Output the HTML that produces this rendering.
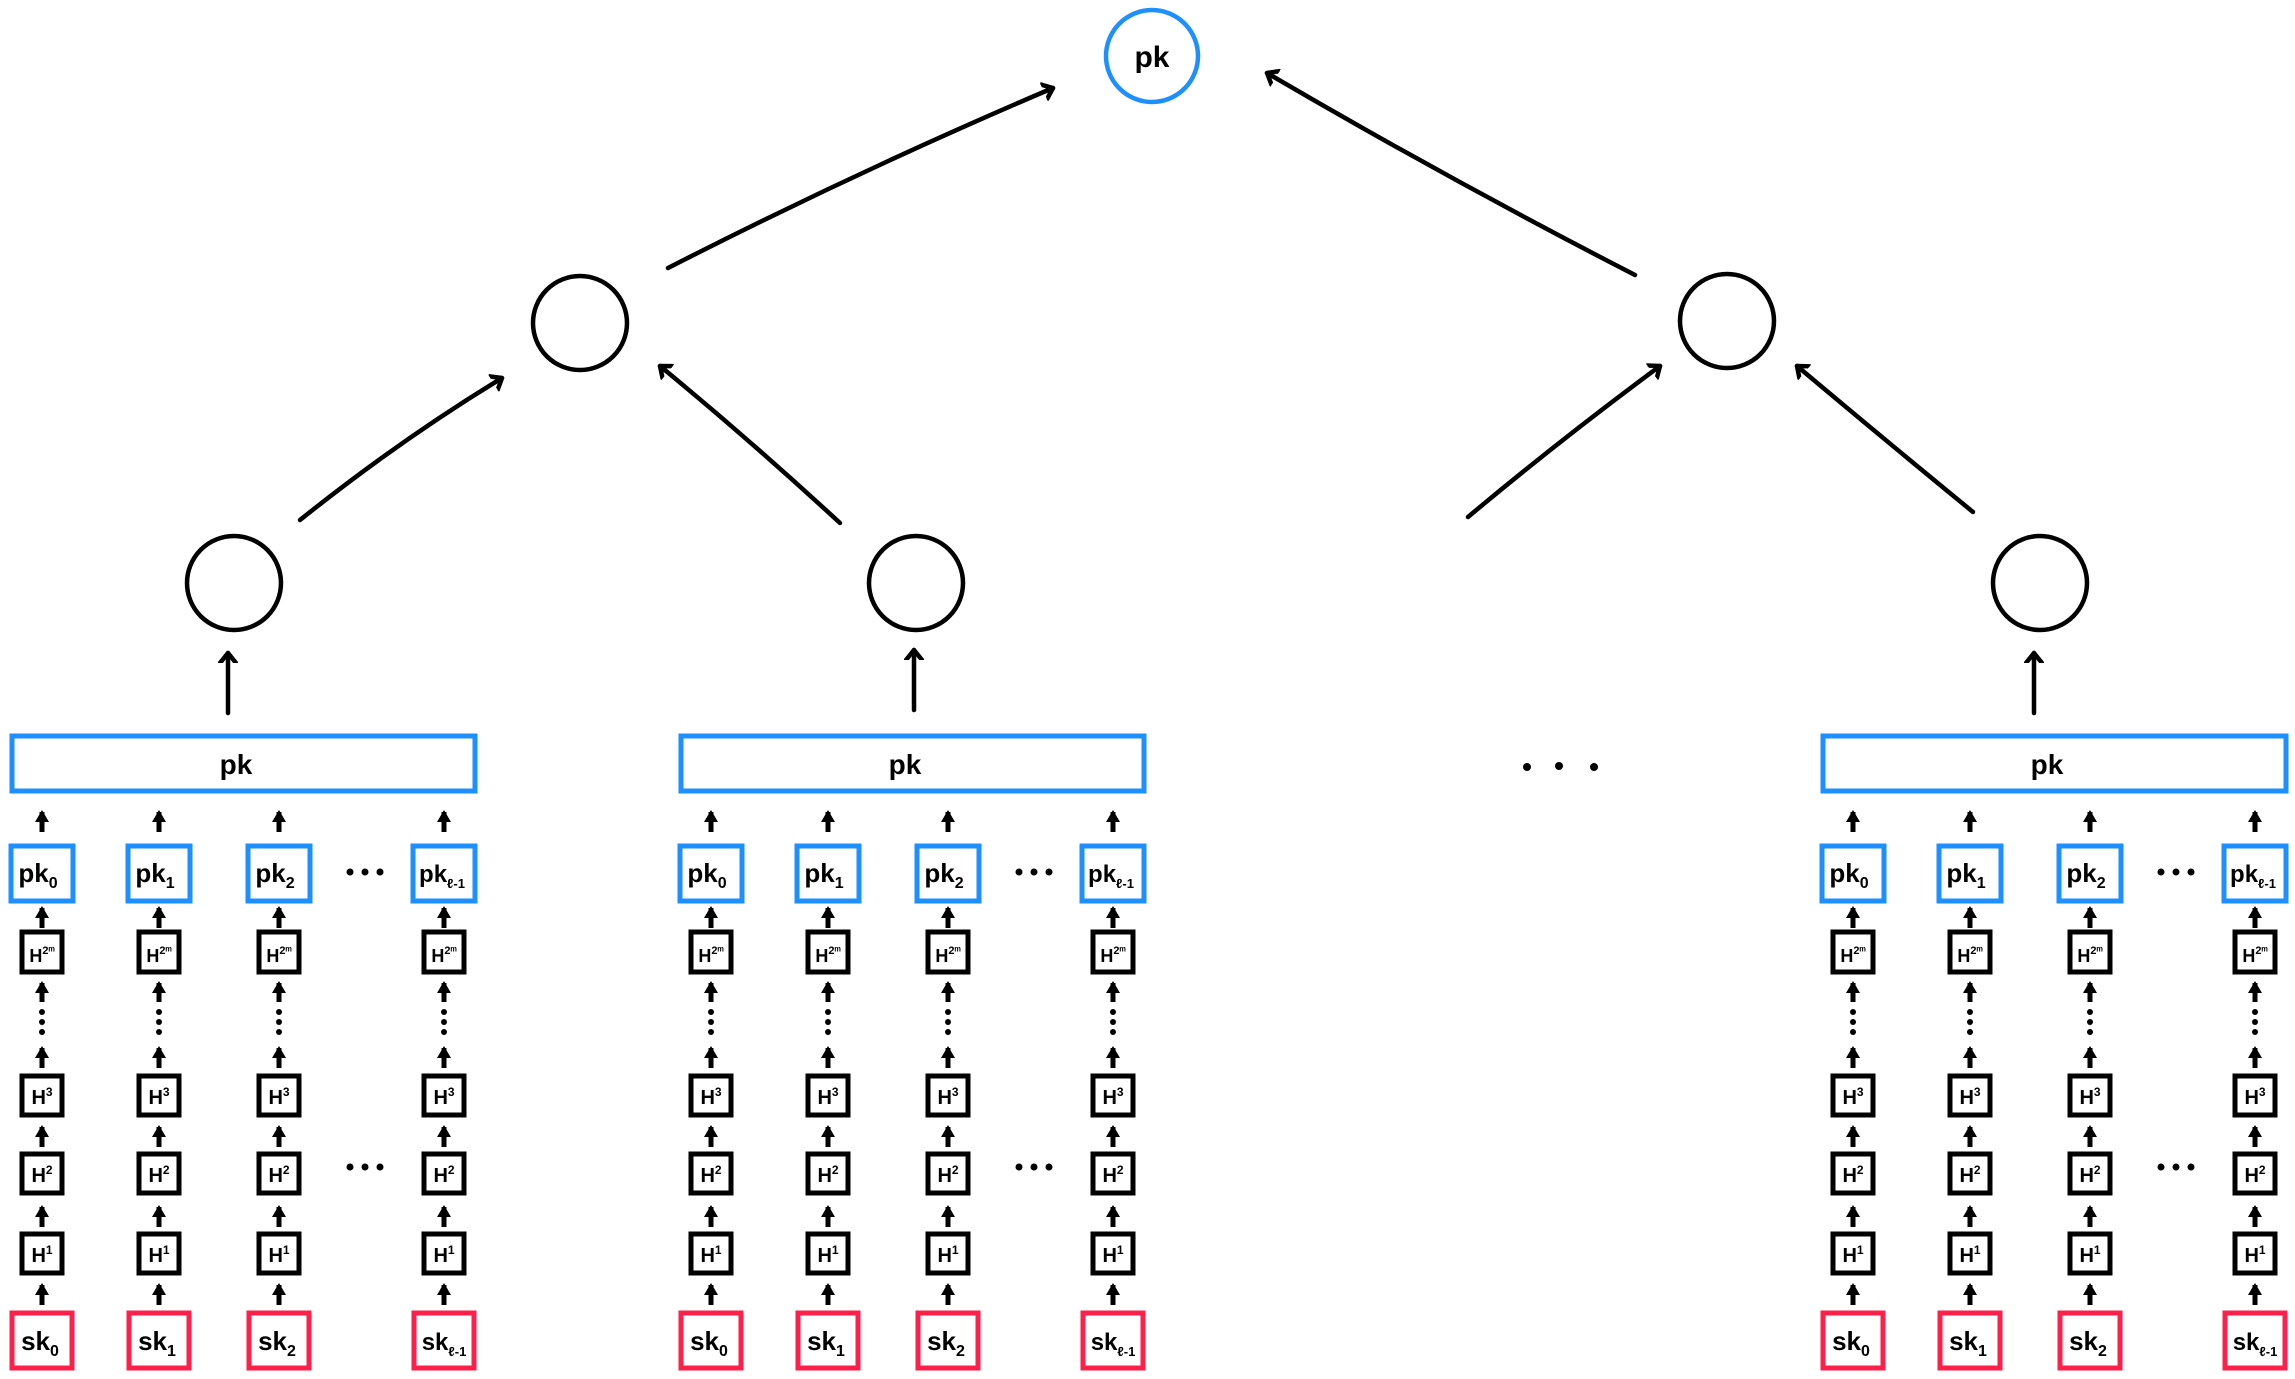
<!DOCTYPE html>
<html><head><meta charset="utf-8"><style>
html,body{margin:0;padding:0;background:#fff;}
svg{display:block;}
text{font-family:"Liberation Sans",sans-serif;font-weight:bold;fill:#000;}
</style></head><body>
<svg width="2295" height="1379" viewBox="0 0 2295 1379" xmlns="http://www.w3.org/2000/svg">
<defs>
<marker id="open" markerWidth="20" markerHeight="20" refX="10" refY="10" orient="auto" markerUnits="userSpaceOnUse">
<polyline points="0,2 10,10 0,18" fill="none" stroke="#000" stroke-width="4.5" stroke-linecap="round" stroke-linejoin="round"/>
</marker>
<marker id="fill" markerWidth="14" markerHeight="14" refX="10" refY="7" orient="auto" markerUnits="userSpaceOnUse">
<polygon points="0,0 12,7 0,14" fill="#000"/>
</marker>
</defs>

<g fill="none" stroke="#000" stroke-width="4.5" stroke-linecap="round">
<circle cx="1152" cy="56" r="46" stroke="#1e8fff"/>
<circle cx="580" cy="323" r="47"/>
<circle cx="1727" cy="321" r="47"/>
<circle cx="234" cy="583" r="47"/>
<circle cx="916" cy="583" r="47"/>
<circle cx="2040" cy="583" r="47"/>
<path d="M668 268 Q860 170 1053 88" marker-end="url(#open)"/>
<path d="M1635 275 Q1450 180 1267 73" marker-end="url(#open)"/>
<path d="M300 520 Q400 440 502 378" marker-end="url(#open)"/>
<path d="M840 523 Q750 440 660 366" marker-end="url(#open)"/>
<path d="M1468 517 Q1560 440 1660 366" marker-end="url(#open)"/>
<path d="M1973 512 Q1885 440 1797 366" marker-end="url(#open)"/>
<path d="M228 713 L228 653" marker-end="url(#open)"/>
<path d="M914 710 L914 650" marker-end="url(#open)"/>
<path d="M2034 713 L2034 653" marker-end="url(#open)"/>
</g>
<text x="1152" y="67" font-size="30" text-anchor="middle">pk</text>
<g fill="#000"><circle cx="1527" cy="767" r="4"/><circle cx="1559" cy="766" r="4"/><circle cx="1594" cy="767" r="4"/></g>

<g id="g1">
<rect x="12" y="736" width="463" height="55" fill="none" stroke="#1e8fff" stroke-width="5"/>
<text x="236" y="774" font-size="28" text-anchor="middle">pk</text>
<g fill="#000"><circle cx="350" cy="872" r="3.5"/><circle cx="365" cy="872" r="3.5"/><circle cx="380" cy="872" r="3.5"/>
<circle cx="350" cy="1167" r="3.5"/><circle cx="365" cy="1167" r="3.5"/><circle cx="380" cy="1167" r="3.5"/></g>

<g transform="translate(42,0)">
<g stroke="#000" stroke-width="5" fill="none">
<path d="M0 832V812" marker-end="url(#fill)"/><path d="M0 928V908" marker-end="url(#fill)"/>
<path d="M0 1002V983" marker-end="url(#fill)"/><path d="M0 1068V1048" marker-end="url(#fill)"/>
<path d="M0 1147V1127" marker-end="url(#fill)"/><path d="M0 1227V1207" marker-end="url(#fill)"/>
<path d="M0 1305V1285" marker-end="url(#fill)"/>
<rect x="-31" y="846" width="62" height="55" stroke="#1e8fff"/>
<rect x="-20" y="932" width="40" height="40"/>
<rect x="-20" y="1076" width="40" height="39"/>
<rect x="-20" y="1154" width="40" height="39"/>
<rect x="-20" y="1234" width="40" height="39"/>
<rect x="-30" y="1313" width="60" height="55" stroke="#ff1f4b"/>
</g>
<g fill="#000"><circle cx="0" cy="1012" r="3"/><circle cx="0" cy="1022" r="3"/><circle cx="0" cy="1032" r="3"/></g>
<text x="-4" y="882" font-size="26" text-anchor="middle">pk<tspan font-size="16" dy="6">0</tspan></text>
<text x="0" y="962" font-size="18" text-anchor="middle">H<tspan font-size="11" dy="-8">2ᵐ</tspan></text>
<text x="0" y="1104" font-size="20" text-anchor="middle">H<tspan font-size="12" dy="-8">3</tspan></text>
<text x="0" y="1182" font-size="20" text-anchor="middle">H<tspan font-size="12" dy="-8">2</tspan></text>
<text x="0" y="1262" font-size="20" text-anchor="middle">H<tspan font-size="12" dy="-8">1</tspan></text>
<text x="-2" y="1350" font-size="26" text-anchor="middle">sk<tspan font-size="16" dy="6">0</tspan></text>
</g>

<g transform="translate(159,0)">
<g stroke="#000" stroke-width="5" fill="none">
<path d="M0 832V812" marker-end="url(#fill)"/><path d="M0 928V908" marker-end="url(#fill)"/>
<path d="M0 1002V983" marker-end="url(#fill)"/><path d="M0 1068V1048" marker-end="url(#fill)"/>
<path d="M0 1147V1127" marker-end="url(#fill)"/><path d="M0 1227V1207" marker-end="url(#fill)"/>
<path d="M0 1305V1285" marker-end="url(#fill)"/>
<rect x="-31" y="846" width="62" height="55" stroke="#1e8fff"/>
<rect x="-20" y="932" width="40" height="40"/>
<rect x="-20" y="1076" width="40" height="39"/>
<rect x="-20" y="1154" width="40" height="39"/>
<rect x="-20" y="1234" width="40" height="39"/>
<rect x="-30" y="1313" width="60" height="55" stroke="#ff1f4b"/>
</g>
<g fill="#000"><circle cx="0" cy="1012" r="3"/><circle cx="0" cy="1022" r="3"/><circle cx="0" cy="1032" r="3"/></g>
<text x="-4" y="882" font-size="26" text-anchor="middle">pk<tspan font-size="16" dy="6">1</tspan></text>
<text x="0" y="962" font-size="18" text-anchor="middle">H<tspan font-size="11" dy="-8">2ᵐ</tspan></text>
<text x="0" y="1104" font-size="20" text-anchor="middle">H<tspan font-size="12" dy="-8">3</tspan></text>
<text x="0" y="1182" font-size="20" text-anchor="middle">H<tspan font-size="12" dy="-8">2</tspan></text>
<text x="0" y="1262" font-size="20" text-anchor="middle">H<tspan font-size="12" dy="-8">1</tspan></text>
<text x="-2" y="1350" font-size="26" text-anchor="middle">sk<tspan font-size="16" dy="6">1</tspan></text>
</g>

<g transform="translate(279,0)">
<g stroke="#000" stroke-width="5" fill="none">
<path d="M0 832V812" marker-end="url(#fill)"/><path d="M0 928V908" marker-end="url(#fill)"/>
<path d="M0 1002V983" marker-end="url(#fill)"/><path d="M0 1068V1048" marker-end="url(#fill)"/>
<path d="M0 1147V1127" marker-end="url(#fill)"/><path d="M0 1227V1207" marker-end="url(#fill)"/>
<path d="M0 1305V1285" marker-end="url(#fill)"/>
<rect x="-31" y="846" width="62" height="55" stroke="#1e8fff"/>
<rect x="-20" y="932" width="40" height="40"/>
<rect x="-20" y="1076" width="40" height="39"/>
<rect x="-20" y="1154" width="40" height="39"/>
<rect x="-20" y="1234" width="40" height="39"/>
<rect x="-30" y="1313" width="60" height="55" stroke="#ff1f4b"/>
</g>
<g fill="#000"><circle cx="0" cy="1012" r="3"/><circle cx="0" cy="1022" r="3"/><circle cx="0" cy="1032" r="3"/></g>
<text x="-4" y="882" font-size="26" text-anchor="middle">pk<tspan font-size="16" dy="6">2</tspan></text>
<text x="0" y="962" font-size="18" text-anchor="middle">H<tspan font-size="11" dy="-8">2ᵐ</tspan></text>
<text x="0" y="1104" font-size="20" text-anchor="middle">H<tspan font-size="12" dy="-8">3</tspan></text>
<text x="0" y="1182" font-size="20" text-anchor="middle">H<tspan font-size="12" dy="-8">2</tspan></text>
<text x="0" y="1262" font-size="20" text-anchor="middle">H<tspan font-size="12" dy="-8">1</tspan></text>
<text x="-2" y="1350" font-size="26" text-anchor="middle">sk<tspan font-size="16" dy="6">2</tspan></text>
</g>

<g transform="translate(444,0)">
<g stroke="#000" stroke-width="5" fill="none">
<path d="M0 832V812" marker-end="url(#fill)"/><path d="M0 928V908" marker-end="url(#fill)"/>
<path d="M0 1002V983" marker-end="url(#fill)"/><path d="M0 1068V1048" marker-end="url(#fill)"/>
<path d="M0 1147V1127" marker-end="url(#fill)"/><path d="M0 1227V1207" marker-end="url(#fill)"/>
<path d="M0 1305V1285" marker-end="url(#fill)"/>
<rect x="-31" y="846" width="62" height="55" stroke="#1e8fff"/>
<rect x="-20" y="932" width="40" height="40"/>
<rect x="-20" y="1076" width="40" height="39"/>
<rect x="-20" y="1154" width="40" height="39"/>
<rect x="-20" y="1234" width="40" height="39"/>
<rect x="-30" y="1313" width="60" height="55" stroke="#ff1f4b"/>
</g>
<g fill="#000"><circle cx="0" cy="1012" r="3"/><circle cx="0" cy="1022" r="3"/><circle cx="0" cy="1032" r="3"/></g>
<text x="-2" y="882" font-size="24" text-anchor="middle">pk<tspan font-size="13" dy="6">ℓ-1</tspan></text>
<text x="0" y="962" font-size="18" text-anchor="middle">H<tspan font-size="11" dy="-8">2ᵐ</tspan></text>
<text x="0" y="1104" font-size="20" text-anchor="middle">H<tspan font-size="12" dy="-8">3</tspan></text>
<text x="0" y="1182" font-size="20" text-anchor="middle">H<tspan font-size="12" dy="-8">2</tspan></text>
<text x="0" y="1262" font-size="20" text-anchor="middle">H<tspan font-size="12" dy="-8">1</tspan></text>
<text x="0" y="1350" font-size="24" text-anchor="middle">sk<tspan font-size="13" dy="6">ℓ-1</tspan></text>
</g>
</g>

<!-- group 2 -->
<g transform="translate(669,0)">
<rect x="12" y="736" width="463" height="55" fill="none" stroke="#1e8fff" stroke-width="5"/>
<text x="236" y="774" font-size="28" text-anchor="middle">pk</text>
<g fill="#000"><circle cx="350" cy="872" r="3.5"/><circle cx="365" cy="872" r="3.5"/><circle cx="380" cy="872" r="3.5"/>
<circle cx="350" cy="1167" r="3.5"/><circle cx="365" cy="1167" r="3.5"/><circle cx="380" cy="1167" r="3.5"/></g>
<g transform="translate(42,0)">
<g stroke="#000" stroke-width="5" fill="none">
<path d="M0 832V812" marker-end="url(#fill)"/><path d="M0 928V908" marker-end="url(#fill)"/>
<path d="M0 1002V983" marker-end="url(#fill)"/><path d="M0 1068V1048" marker-end="url(#fill)"/>
<path d="M0 1147V1127" marker-end="url(#fill)"/><path d="M0 1227V1207" marker-end="url(#fill)"/>
<path d="M0 1305V1285" marker-end="url(#fill)"/>
<rect x="-31" y="846" width="62" height="55" stroke="#1e8fff"/>
<rect x="-20" y="932" width="40" height="40"/>
<rect x="-20" y="1076" width="40" height="39"/>
<rect x="-20" y="1154" width="40" height="39"/>
<rect x="-20" y="1234" width="40" height="39"/>
<rect x="-30" y="1313" width="60" height="55" stroke="#ff1f4b"/>
</g>
<g fill="#000"><circle cx="0" cy="1012" r="3"/><circle cx="0" cy="1022" r="3"/><circle cx="0" cy="1032" r="3"/></g>
<text x="-4" y="882" font-size="26" text-anchor="middle">pk<tspan font-size="16" dy="6">0</tspan></text>
<text x="0" y="962" font-size="18" text-anchor="middle">H<tspan font-size="11" dy="-8">2ᵐ</tspan></text>
<text x="0" y="1104" font-size="20" text-anchor="middle">H<tspan font-size="12" dy="-8">3</tspan></text>
<text x="0" y="1182" font-size="20" text-anchor="middle">H<tspan font-size="12" dy="-8">2</tspan></text>
<text x="0" y="1262" font-size="20" text-anchor="middle">H<tspan font-size="12" dy="-8">1</tspan></text>
<text x="-2" y="1350" font-size="26" text-anchor="middle">sk<tspan font-size="16" dy="6">0</tspan></text>
</g>
<g transform="translate(159,0)">
<g stroke="#000" stroke-width="5" fill="none">
<path d="M0 832V812" marker-end="url(#fill)"/><path d="M0 928V908" marker-end="url(#fill)"/>
<path d="M0 1002V983" marker-end="url(#fill)"/><path d="M0 1068V1048" marker-end="url(#fill)"/>
<path d="M0 1147V1127" marker-end="url(#fill)"/><path d="M0 1227V1207" marker-end="url(#fill)"/>
<path d="M0 1305V1285" marker-end="url(#fill)"/>
<rect x="-31" y="846" width="62" height="55" stroke="#1e8fff"/>
<rect x="-20" y="932" width="40" height="40"/>
<rect x="-20" y="1076" width="40" height="39"/>
<rect x="-20" y="1154" width="40" height="39"/>
<rect x="-20" y="1234" width="40" height="39"/>
<rect x="-30" y="1313" width="60" height="55" stroke="#ff1f4b"/>
</g>
<g fill="#000"><circle cx="0" cy="1012" r="3"/><circle cx="0" cy="1022" r="3"/><circle cx="0" cy="1032" r="3"/></g>
<text x="-4" y="882" font-size="26" text-anchor="middle">pk<tspan font-size="16" dy="6">1</tspan></text>
<text x="0" y="962" font-size="18" text-anchor="middle">H<tspan font-size="11" dy="-8">2ᵐ</tspan></text>
<text x="0" y="1104" font-size="20" text-anchor="middle">H<tspan font-size="12" dy="-8">3</tspan></text>
<text x="0" y="1182" font-size="20" text-anchor="middle">H<tspan font-size="12" dy="-8">2</tspan></text>
<text x="0" y="1262" font-size="20" text-anchor="middle">H<tspan font-size="12" dy="-8">1</tspan></text>
<text x="-2" y="1350" font-size="26" text-anchor="middle">sk<tspan font-size="16" dy="6">1</tspan></text>
</g>
<g transform="translate(279,0)">
<g stroke="#000" stroke-width="5" fill="none">
<path d="M0 832V812" marker-end="url(#fill)"/><path d="M0 928V908" marker-end="url(#fill)"/>
<path d="M0 1002V983" marker-end="url(#fill)"/><path d="M0 1068V1048" marker-end="url(#fill)"/>
<path d="M0 1147V1127" marker-end="url(#fill)"/><path d="M0 1227V1207" marker-end="url(#fill)"/>
<path d="M0 1305V1285" marker-end="url(#fill)"/>
<rect x="-31" y="846" width="62" height="55" stroke="#1e8fff"/>
<rect x="-20" y="932" width="40" height="40"/>
<rect x="-20" y="1076" width="40" height="39"/>
<rect x="-20" y="1154" width="40" height="39"/>
<rect x="-20" y="1234" width="40" height="39"/>
<rect x="-30" y="1313" width="60" height="55" stroke="#ff1f4b"/>
</g>
<g fill="#000"><circle cx="0" cy="1012" r="3"/><circle cx="0" cy="1022" r="3"/><circle cx="0" cy="1032" r="3"/></g>
<text x="-4" y="882" font-size="26" text-anchor="middle">pk<tspan font-size="16" dy="6">2</tspan></text>
<text x="0" y="962" font-size="18" text-anchor="middle">H<tspan font-size="11" dy="-8">2ᵐ</tspan></text>
<text x="0" y="1104" font-size="20" text-anchor="middle">H<tspan font-size="12" dy="-8">3</tspan></text>
<text x="0" y="1182" font-size="20" text-anchor="middle">H<tspan font-size="12" dy="-8">2</tspan></text>
<text x="0" y="1262" font-size="20" text-anchor="middle">H<tspan font-size="12" dy="-8">1</tspan></text>
<text x="-2" y="1350" font-size="26" text-anchor="middle">sk<tspan font-size="16" dy="6">2</tspan></text>
</g>
<g transform="translate(444,0)">
<g stroke="#000" stroke-width="5" fill="none">
<path d="M0 832V812" marker-end="url(#fill)"/><path d="M0 928V908" marker-end="url(#fill)"/>
<path d="M0 1002V983" marker-end="url(#fill)"/><path d="M0 1068V1048" marker-end="url(#fill)"/>
<path d="M0 1147V1127" marker-end="url(#fill)"/><path d="M0 1227V1207" marker-end="url(#fill)"/>
<path d="M0 1305V1285" marker-end="url(#fill)"/>
<rect x="-31" y="846" width="62" height="55" stroke="#1e8fff"/>
<rect x="-20" y="932" width="40" height="40"/>
<rect x="-20" y="1076" width="40" height="39"/>
<rect x="-20" y="1154" width="40" height="39"/>
<rect x="-20" y="1234" width="40" height="39"/>
<rect x="-30" y="1313" width="60" height="55" stroke="#ff1f4b"/>
</g>
<g fill="#000"><circle cx="0" cy="1012" r="3"/><circle cx="0" cy="1022" r="3"/><circle cx="0" cy="1032" r="3"/></g>
<text x="-2" y="882" font-size="24" text-anchor="middle">pk<tspan font-size="13" dy="6">ℓ-1</tspan></text>
<text x="0" y="962" font-size="18" text-anchor="middle">H<tspan font-size="11" dy="-8">2ᵐ</tspan></text>
<text x="0" y="1104" font-size="20" text-anchor="middle">H<tspan font-size="12" dy="-8">3</tspan></text>
<text x="0" y="1182" font-size="20" text-anchor="middle">H<tspan font-size="12" dy="-8">2</tspan></text>
<text x="0" y="1262" font-size="20" text-anchor="middle">H<tspan font-size="12" dy="-8">1</tspan></text>
<text x="0" y="1350" font-size="24" text-anchor="middle">sk<tspan font-size="13" dy="6">ℓ-1</tspan></text>
</g>
</g>

<!-- group 3 -->
<g transform="translate(1811,0)">
<rect x="12" y="736" width="463" height="55" fill="none" stroke="#1e8fff" stroke-width="5"/>
<text x="236" y="774" font-size="28" text-anchor="middle">pk</text>
<g fill="#000"><circle cx="350" cy="872" r="3.5"/><circle cx="365" cy="872" r="3.5"/><circle cx="380" cy="872" r="3.5"/>
<circle cx="350" cy="1167" r="3.5"/><circle cx="365" cy="1167" r="3.5"/><circle cx="380" cy="1167" r="3.5"/></g>
<g transform="translate(42,0)">
<g stroke="#000" stroke-width="5" fill="none">
<path d="M0 832V812" marker-end="url(#fill)"/><path d="M0 928V908" marker-end="url(#fill)"/>
<path d="M0 1002V983" marker-end="url(#fill)"/><path d="M0 1068V1048" marker-end="url(#fill)"/>
<path d="M0 1147V1127" marker-end="url(#fill)"/><path d="M0 1227V1207" marker-end="url(#fill)"/>
<path d="M0 1305V1285" marker-end="url(#fill)"/>
<rect x="-31" y="846" width="62" height="55" stroke="#1e8fff"/>
<rect x="-20" y="932" width="40" height="40"/>
<rect x="-20" y="1076" width="40" height="39"/>
<rect x="-20" y="1154" width="40" height="39"/>
<rect x="-20" y="1234" width="40" height="39"/>
<rect x="-30" y="1313" width="60" height="55" stroke="#ff1f4b"/>
</g>
<g fill="#000"><circle cx="0" cy="1012" r="3"/><circle cx="0" cy="1022" r="3"/><circle cx="0" cy="1032" r="3"/></g>
<text x="-4" y="882" font-size="26" text-anchor="middle">pk<tspan font-size="16" dy="6">0</tspan></text>
<text x="0" y="962" font-size="18" text-anchor="middle">H<tspan font-size="11" dy="-8">2ᵐ</tspan></text>
<text x="0" y="1104" font-size="20" text-anchor="middle">H<tspan font-size="12" dy="-8">3</tspan></text>
<text x="0" y="1182" font-size="20" text-anchor="middle">H<tspan font-size="12" dy="-8">2</tspan></text>
<text x="0" y="1262" font-size="20" text-anchor="middle">H<tspan font-size="12" dy="-8">1</tspan></text>
<text x="-2" y="1350" font-size="26" text-anchor="middle">sk<tspan font-size="16" dy="6">0</tspan></text>
</g>
<g transform="translate(159,0)">
<g stroke="#000" stroke-width="5" fill="none">
<path d="M0 832V812" marker-end="url(#fill)"/><path d="M0 928V908" marker-end="url(#fill)"/>
<path d="M0 1002V983" marker-end="url(#fill)"/><path d="M0 1068V1048" marker-end="url(#fill)"/>
<path d="M0 1147V1127" marker-end="url(#fill)"/><path d="M0 1227V1207" marker-end="url(#fill)"/>
<path d="M0 1305V1285" marker-end="url(#fill)"/>
<rect x="-31" y="846" width="62" height="55" stroke="#1e8fff"/>
<rect x="-20" y="932" width="40" height="40"/>
<rect x="-20" y="1076" width="40" height="39"/>
<rect x="-20" y="1154" width="40" height="39"/>
<rect x="-20" y="1234" width="40" height="39"/>
<rect x="-30" y="1313" width="60" height="55" stroke="#ff1f4b"/>
</g>
<g fill="#000"><circle cx="0" cy="1012" r="3"/><circle cx="0" cy="1022" r="3"/><circle cx="0" cy="1032" r="3"/></g>
<text x="-4" y="882" font-size="26" text-anchor="middle">pk<tspan font-size="16" dy="6">1</tspan></text>
<text x="0" y="962" font-size="18" text-anchor="middle">H<tspan font-size="11" dy="-8">2ᵐ</tspan></text>
<text x="0" y="1104" font-size="20" text-anchor="middle">H<tspan font-size="12" dy="-8">3</tspan></text>
<text x="0" y="1182" font-size="20" text-anchor="middle">H<tspan font-size="12" dy="-8">2</tspan></text>
<text x="0" y="1262" font-size="20" text-anchor="middle">H<tspan font-size="12" dy="-8">1</tspan></text>
<text x="-2" y="1350" font-size="26" text-anchor="middle">sk<tspan font-size="16" dy="6">1</tspan></text>
</g>
<g transform="translate(279,0)">
<g stroke="#000" stroke-width="5" fill="none">
<path d="M0 832V812" marker-end="url(#fill)"/><path d="M0 928V908" marker-end="url(#fill)"/>
<path d="M0 1002V983" marker-end="url(#fill)"/><path d="M0 1068V1048" marker-end="url(#fill)"/>
<path d="M0 1147V1127" marker-end="url(#fill)"/><path d="M0 1227V1207" marker-end="url(#fill)"/>
<path d="M0 1305V1285" marker-end="url(#fill)"/>
<rect x="-31" y="846" width="62" height="55" stroke="#1e8fff"/>
<rect x="-20" y="932" width="40" height="40"/>
<rect x="-20" y="1076" width="40" height="39"/>
<rect x="-20" y="1154" width="40" height="39"/>
<rect x="-20" y="1234" width="40" height="39"/>
<rect x="-30" y="1313" width="60" height="55" stroke="#ff1f4b"/>
</g>
<g fill="#000"><circle cx="0" cy="1012" r="3"/><circle cx="0" cy="1022" r="3"/><circle cx="0" cy="1032" r="3"/></g>
<text x="-4" y="882" font-size="26" text-anchor="middle">pk<tspan font-size="16" dy="6">2</tspan></text>
<text x="0" y="962" font-size="18" text-anchor="middle">H<tspan font-size="11" dy="-8">2ᵐ</tspan></text>
<text x="0" y="1104" font-size="20" text-anchor="middle">H<tspan font-size="12" dy="-8">3</tspan></text>
<text x="0" y="1182" font-size="20" text-anchor="middle">H<tspan font-size="12" dy="-8">2</tspan></text>
<text x="0" y="1262" font-size="20" text-anchor="middle">H<tspan font-size="12" dy="-8">1</tspan></text>
<text x="-2" y="1350" font-size="26" text-anchor="middle">sk<tspan font-size="16" dy="6">2</tspan></text>
</g>
<g transform="translate(444,0)">
<g stroke="#000" stroke-width="5" fill="none">
<path d="M0 832V812" marker-end="url(#fill)"/><path d="M0 928V908" marker-end="url(#fill)"/>
<path d="M0 1002V983" marker-end="url(#fill)"/><path d="M0 1068V1048" marker-end="url(#fill)"/>
<path d="M0 1147V1127" marker-end="url(#fill)"/><path d="M0 1227V1207" marker-end="url(#fill)"/>
<path d="M0 1305V1285" marker-end="url(#fill)"/>
<rect x="-31" y="846" width="62" height="55" stroke="#1e8fff"/>
<rect x="-20" y="932" width="40" height="40"/>
<rect x="-20" y="1076" width="40" height="39"/>
<rect x="-20" y="1154" width="40" height="39"/>
<rect x="-20" y="1234" width="40" height="39"/>
<rect x="-30" y="1313" width="60" height="55" stroke="#ff1f4b"/>
</g>
<g fill="#000"><circle cx="0" cy="1012" r="3"/><circle cx="0" cy="1022" r="3"/><circle cx="0" cy="1032" r="3"/></g>
<text x="-2" y="882" font-size="24" text-anchor="middle">pk<tspan font-size="13" dy="6">ℓ-1</tspan></text>
<text x="0" y="962" font-size="18" text-anchor="middle">H<tspan font-size="11" dy="-8">2ᵐ</tspan></text>
<text x="0" y="1104" font-size="20" text-anchor="middle">H<tspan font-size="12" dy="-8">3</tspan></text>
<text x="0" y="1182" font-size="20" text-anchor="middle">H<tspan font-size="12" dy="-8">2</tspan></text>
<text x="0" y="1262" font-size="20" text-anchor="middle">H<tspan font-size="12" dy="-8">1</tspan></text>
<text x="0" y="1350" font-size="24" text-anchor="middle">sk<tspan font-size="13" dy="6">ℓ-1</tspan></text>
</g>
</g>
</svg>
</body></html>
